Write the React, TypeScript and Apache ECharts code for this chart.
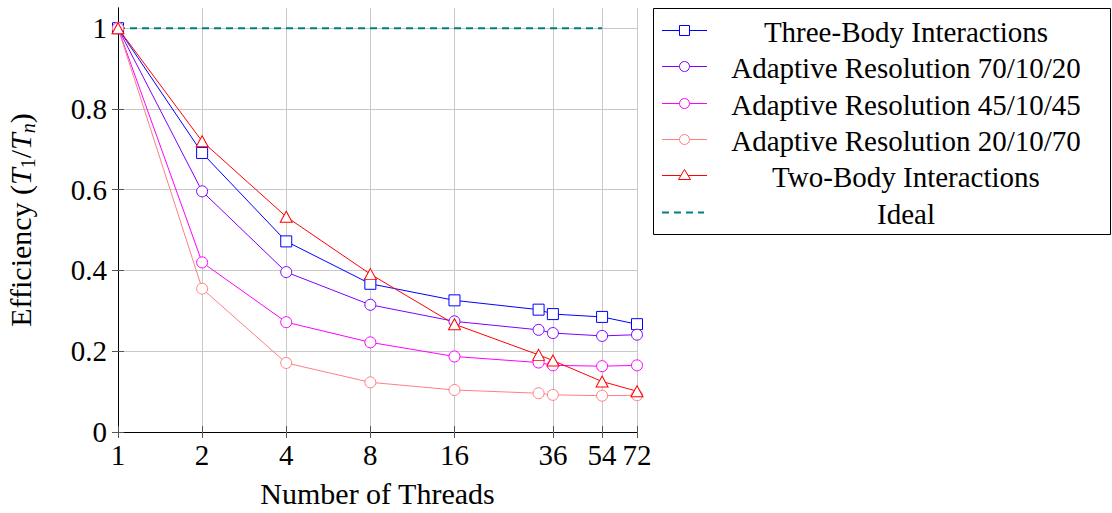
import React, { useEffect, useRef } from "react";
import * as echarts from "echarts";

// Thread counts sampled in the benchmark and the ticks shown on the x axis
const threads = [1, 2, 4, 8, 16, 32, 36, 54, 72];
const tickThreads = [1, 2, 4, 8, 16, 36, 54, 72];
const yTicks = [0, 0.2, 0.4, 0.6, 0.8, 1];

// Parallel efficiency T1/Tn per configuration
const threeBody = [1.0, 0.691, 0.472, 0.367, 0.326, 0.303, 0.292, 0.285, 0.267];
const adaptive702 = [1.0, 0.596, 0.396, 0.315, 0.274, 0.253, 0.245, 0.238, 0.241];
const adaptive454 = [1.0, 0.42, 0.272, 0.222, 0.187, 0.172, 0.165, 0.163, 0.165];
const adaptive207 = [1.0, 0.355, 0.171, 0.123, 0.104, 0.096, 0.092, 0.09, 0.091];
const twoBody = [1.0, 0.72, 0.533, 0.391, 0.267, 0.191, 0.177, 0.125, 0.101];
const idealThreads = [1, 2, 4, 8, 16, 32, 36, 54];
const ideal = [1, 1, 1, 1, 1, 1, 1, 1];

const FONT = "Liberation Serif";
const FS = 29;
const FS_TEXT = 30;

// Shared rich-text token styles
const richSerif = {
  s: { fontFamily: FONT, fontSize: FS, fontStyle: "normal", fontWeight: "normal", lineHeight: 34, color: "#000000" },
  n: { fontFamily: FONT, fontSize: FS_TEXT, fontStyle: "normal", fontWeight: "normal", lineHeight: 36, color: "#000000" },
  it: { fontFamily: FONT, fontSize: FS_TEXT, fontStyle: "italic", fontWeight: "normal", lineHeight: 36, color: "#000000" },
  sub: { fontFamily: FONT, fontSize: 20, fontStyle: "normal", lineHeight: 22, verticalAlign: "bottom", color: "#000000" },
  subi: { fontFamily: FONT, fontSize: 20, fontStyle: "italic", lineHeight: 22, verticalAlign: "bottom", color: "#000000" },
};

type Entry = {
  name: string;
  color: string;
  mark: "square" | "circle" | "triangle" | "none";
  values: number[];
  xs: number[];
};

const entries: Entry[] = [
  { name: "Three-Body Interactions", color: "#0000ff", mark: "square", values: threeBody, xs: threads },
  { name: "Adaptive Resolution 70/10/20", color: "#8000ff", mark: "circle", values: adaptive702, xs: threads },
  { name: "Adaptive Resolution 45/10/45", color: "#ff00ff", mark: "circle", values: adaptive454, xs: threads },
  { name: "Adaptive Resolution 20/10/70", color: "#ff8080", mark: "circle", values: adaptive207, xs: threads },
  { name: "Two-Body Interactions", color: "#ff0000", mark: "triangle", values: twoBody, xs: threads },
  { name: "Ideal", color: "#008080", mark: "none", values: ideal, xs: idealThreads },
];

const log2 = (v: number) => Math.log2(v);
const xMax = log2(72);

const symbolFor = (m: Entry["mark"]) =>
  m === "square" ? "rect" : m === "circle" ? "circle" : m === "triangle" ? "triangle" : "none";

function buildLegend() {
  const left = 653.5;
  const top = 8.5;
  const width = 457;
  const height = 226;
  const rowY0 = 30;
  const rowStep = 36.3;
  const children: any[] = [
    {
      type: "rect",
      shape: { x: left, y: top, width, height },
      style: { fill: "#ffffff", stroke: "#000000", lineWidth: 1 },
    },
  ];
  entries.forEach((e, i) => {
    const y = Math.round(rowY0 + i * rowStep) + 0.5;
    const dashed = e.mark === "none";
    children.push({
      type: "line",
      shape: { x1: 662, y1: y, x2: dashed ? 704 : 707, y2: y },
      style: {
        stroke: e.color,
        lineWidth: dashed ? 2 : 1,
        lineDash: dashed ? [7, 5] : undefined,
      },
    });
    const cx = 684.5;
    if (e.mark === "square") {
      children.push({
        type: "rect",
        shape: { x: cx - 5, y: y - 5, width: 10, height: 10 },
        style: { fill: "#ffffff", stroke: e.color, lineWidth: 1 },
      });
    } else if (e.mark === "circle") {
      children.push({
        type: "circle",
        shape: { cx, cy: y, r: 5 },
        style: { fill: "#ffffff", stroke: e.color, lineWidth: 1 },
      });
    } else if (e.mark === "triangle") {
      children.push({
        type: "polygon",
        shape: { points: [[cx, y - 6], [cx - 6, y + 4], [cx + 6, y + 4]] },
        style: { fill: "#ffffff", stroke: e.color, lineWidth: 1 },
      });
    }
    children.push({
      type: "text",
      x: 906,
      y: y + 1,
      style: {
        text: `{s|${e.name}}`,
        rich: richSerif,
        x: 0,
        y: 0,
        textAlign: "center",
        textVerticalAlign: "middle",
        fill: "#000000",
        fontFamily: FONT,
        fontSize: FS,
        fontStyle: "normal",
        fontWeight: "normal",
      },
    });
  });
  return [{ type: "group", children }];
}

export default function App() {
  const ref = useRef<HTMLDivElement>(null);

  useEffect(() => {
    if (!ref.current) return;
    document.body.style.margin = "0";
    const chart = echarts.init(ref.current, undefined, { renderer: "svg" });

    const tickVals = tickThreads.map(log2);
    const textStyle = { fontFamily: FONT, fontSize: FS, fontStyle: "normal", fontWeight: "normal", color: "#000000" };
    const nameStyle = {
      fontFamily: FONT,
      fontSize: FS_TEXT,
      fontStyle: "normal",
      fontWeight: "normal",
      color: "#000000",
      rich: richSerif,
    };

    const baseX = {
      type: "value" as const,
      min: 0,
      max: xMax,
    };
    const baseY = {
      type: "value" as const,
      min: 0,
      max: 1.05,
    };
    const tickStyle = { show: true, inside: true, length: 6, lineStyle: { color: "#555555" } };
    const frameLine = { show: true, lineStyle: { color: "#000000", width: 1 } };

    chart.setOption({
      animation: false,
      textStyle: { fontFamily: FONT, fontStyle: "normal", fontWeight: "normal" },
      grid: { left: 118, right: 475, top: 8, bottom: 76, containLabel: false },
      xAxis: [
        {
          ...baseX,
          position: "bottom",
          name: "{n|Number of Threads}",
          nameLocation: "middle",
          nameGap: 43,
          nameTextStyle: nameStyle,
          axisLine: frameLine,
          axisTick: { ...tickStyle, customValues: tickVals },
          axisLabel: {
            ...textStyle,
            margin: 6,
            customValues: tickVals,
            rich: richSerif,
            formatter: (v: number) => `{s|${Math.round(Math.pow(2, v))}}`,
          },
          splitLine: { show: true, lineStyle: { color: "#c8c8c8", width: 1 } },
        },
        {
          ...baseX,
          position: "top",
          axisLine: frameLine,
          axisTick: { ...tickStyle, customValues: tickVals },
          axisLabel: { show: false },
          splitLine: { show: false },
        },
      ],
      yAxis: [
        {
          ...baseY,
          position: "left",
          name: "{n|Efficiency (}{it|T}{sub|1}{n|/}{it|T}{subi|n}{n|)}",
          nameLocation: "middle",
          nameRotate: 90,
          nameGap: 80,
          nameTextStyle: nameStyle,
          axisLine: frameLine,
          axisTick: { ...tickStyle, customValues: yTicks },
          axisLabel: {
            ...textStyle,
            margin: 11,
            customValues: yTicks,
            rich: richSerif,
            formatter: (v: number) => `{s|${+v.toFixed(1)}}`,
          },
          splitLine: { show: true, lineStyle: { color: "#c8c8c8", width: 1 } },
        },
        {
          ...baseY,
          position: "right",
          axisLine: frameLine,
          axisTick: { ...tickStyle, customValues: yTicks },
          axisLabel: { show: false },
          splitLine: { show: false },
        },
      ],
      series: entries.map((e) => ({
        name: e.name,
        type: "line",
        xAxisIndex: 0,
        yAxisIndex: 0,
        data: e.xs.map((x, i) => [log2(x), e.values[i]]),
        symbol: symbolFor(e.mark),
        symbolSize: e.mark === "triangle" ? [12, 11] : 11,
        showSymbol: e.mark !== "none",
        itemStyle: { color: "#ffffff", borderColor: e.color, borderWidth: 1 },
        lineStyle: {
          color: e.color,
          width: e.mark === "none" ? 2 : 1,
          type: e.mark === "none" ? [7, 5] : "solid",
        },
        emphasis: { disabled: true },
        z: 2,
      })),
      graphic: buildLegend(),
    });

    return () => chart.dispose();
  }, []);

  return <div ref={ref} style={{ width: 1112, height: 513 }} />;
}
